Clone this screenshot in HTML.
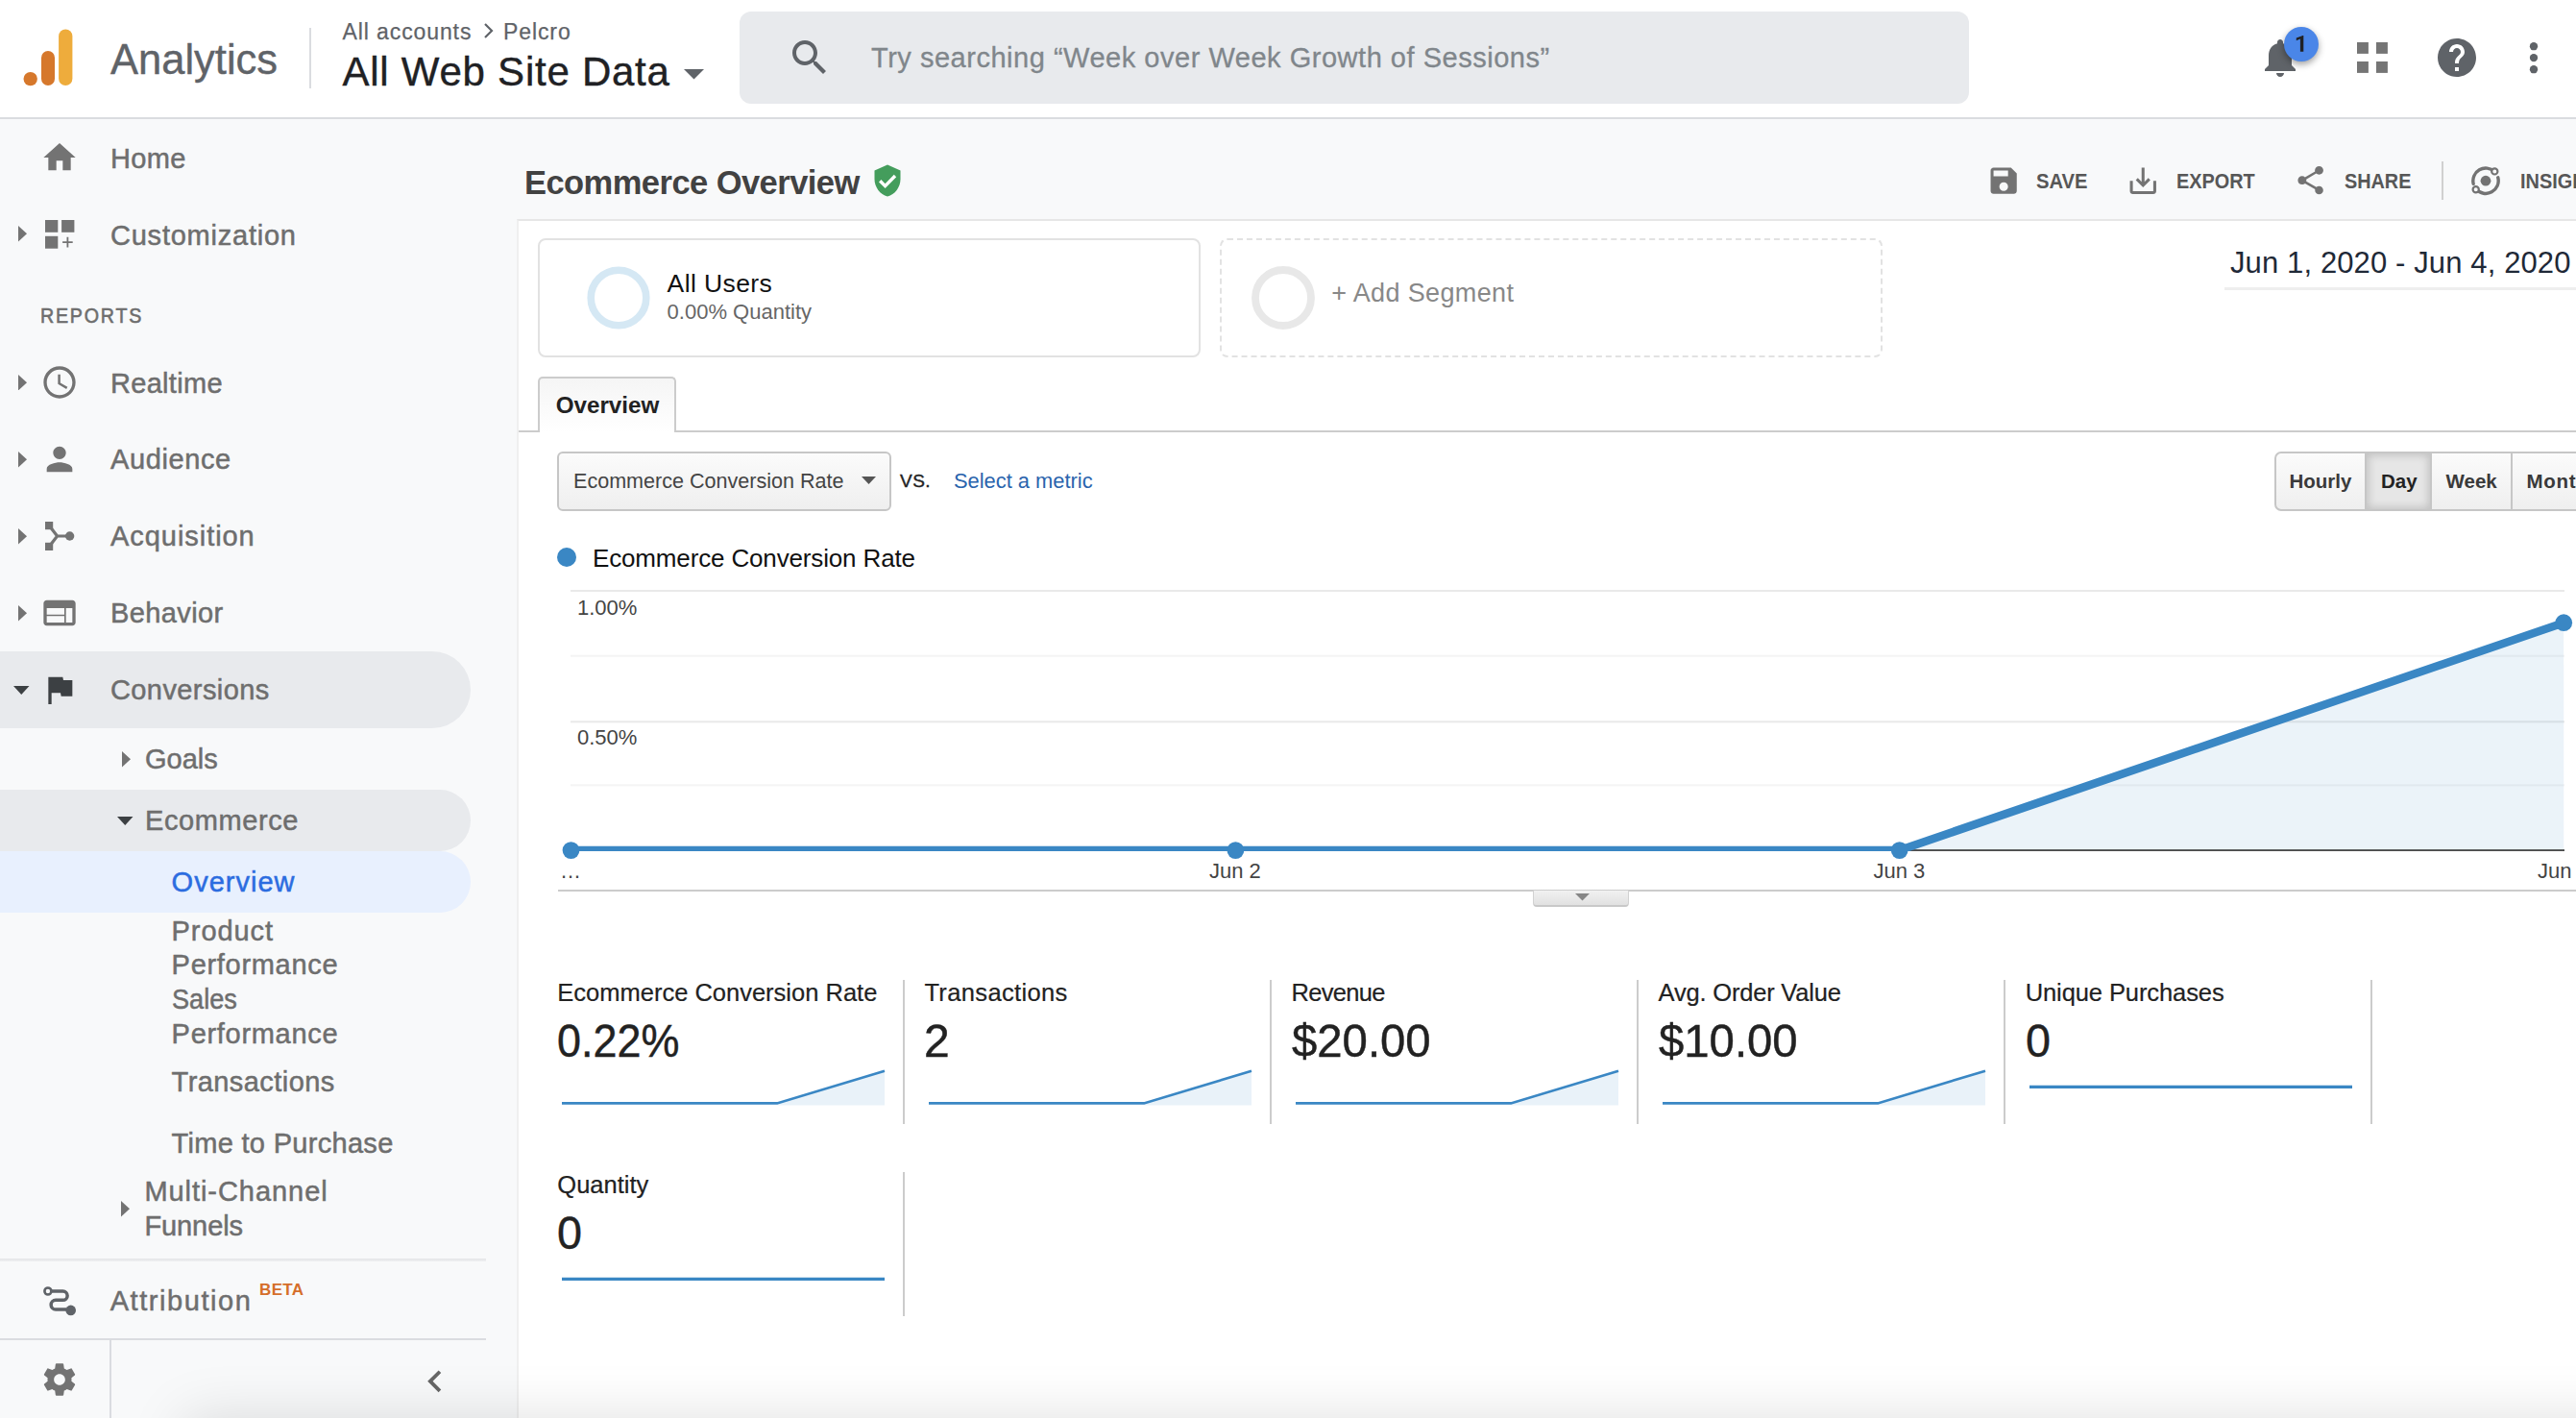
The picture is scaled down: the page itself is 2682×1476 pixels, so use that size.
<!DOCTYPE html>
<html><head><meta charset="utf-8"><title>Analytics</title>
<style>
html,body{margin:0;padding:0}
body{width:2682px;height:1476px;overflow:hidden;background:#f8f9fa;font-family:"Liberation Sans",sans-serif;position:relative}
.t{position:absolute;white-space:nowrap;line-height:1;margin:0}
.b{position:absolute;box-sizing:border-box;display:block}
</style></head><body>

<div class="b" style="left:0px;top:0px;width:2682px;height:122px;background:#fff"></div>
<div class="b" style="left:0px;top:122px;width:2682px;height:2px;background:#dadce0"></div>
<svg class="b" style="left:24px;top:30px;" width="54" height="60" viewBox="0 0 54 60"><circle cx="7.7" cy="52.1" r="7.2" fill="#d6782c"/><rect x="19" y="22.9" width="14" height="36.2" rx="7" fill="#d6782c"/><rect x="37.1" y="0.5" width="14.3" height="58.6" rx="7.15" fill="#eeac3c"/></svg>
<div class="t" style="left:115px;top:40.68px;font-size:43.5px;color:#5f6368;font-weight:400;letter-spacing:0px;-webkit-text-stroke:0.4px #5f6368;">Analytics</div>
<div class="b" style="left:322px;top:29px;width:2px;height:63px;background:#dadce0"></div>
<div class="t" style="left:356.5px;top:21.83px;font-size:23px;color:#5f6368;font-weight:400;letter-spacing:0.9px;-webkit-text-stroke:0.25px #5f6368;">All accounts</div>
<svg class="b" style="left:502px;top:23px;" width="14" height="18" viewBox="0 0 14 18"><path d="M3 2 L10 9 L3 16" fill="none" stroke="#5f6368" stroke-width="2.2"/></svg>
<div class="t" style="left:524px;top:21.83px;font-size:23px;color:#5f6368;font-weight:400;letter-spacing:0.9px;-webkit-text-stroke:0.25px #5f6368;">Pelcro</div>
<div class="t" style="left:356.5px;top:53.85px;font-size:42px;color:#202124;font-weight:400;letter-spacing:0.75px;-webkit-text-stroke:0.4px #202124;">All Web Site Data</div>
<svg class="b" style="left:712px;top:72px;" width="21" height="11" viewBox="0 0 21 11"><path d="M0 0H21L10.5 10.5z" fill="#5f6368"/></svg>
<div class="b" style="left:770px;top:12px;width:1280px;height:96px;background:#e8eaed;border-radius:12px"></div>
<svg class="b" style="left:818.6px;top:36px;" width="48" height="48" viewBox="0 0 24 24"><path fill="#5f6368" d="M15.5 14h-.79l-.28-.27C15.41 12.59 16 11.11 16 9.5 16 5.91 13.09 3 9.5 3S3 5.91 3 9.5 5.91 16 9.5 16c1.61 0 3.09-.59 4.23-1.57l.27.28v.79l5 4.99L20.49 19l-4.99-5zm-6 0C7.01 14 5 11.99 5 9.5S7.01 5 9.5 5 14 7.01 14 9.5 11.99 14 9.5 14z"/></svg>
<div class="t" style="left:907px;top:45.95px;font-size:29px;color:#80868b;font-weight:400;letter-spacing:0.52px;-webkit-text-stroke:0.3px #80868b;">Try searching “Week over Week Growth of Sessions”</div>
<svg class="b" style="left:2350px;top:35.8px;" width="48" height="48" viewBox="0 0 24 24"><path fill="#5f6368" d="M12 22c1.1 0 2-.9 2-2h-4c0 1.1.89 2 2 2zm6-6v-5c0-3.07-1.64-5.64-4.5-6.32V4c0-.83-.67-1.5-1.5-1.5s-1.5.67-1.5 1.5v.68C7.63 5.36 6 7.92 6 11v5l-2 2v1h16v-1l-2-2z"/></svg>
<div class="b" style="left:2378px;top:28px;width:36px;height:36px;background:#4a86e8;border-radius:50%;box-shadow:0 3px 7px rgba(0,0,0,.38)"></div>
<svg class="b" style="left:2388px;top:36px;" width="14" height="20" viewBox="0 0 14 20"><path d="M10.3 0.9V17.8H6.9V4.6L2.8 6.3V3.5L9.6 0.9z" fill="#202124"/></svg>
<svg class="b" style="left:2454.2px;top:44px;" width="32" height="32" viewBox="0 0 32 32"><rect x="0" y="0" width="11.9" height="11.9" fill="#757575"/><rect x="20" y="0" width="11.9" height="11.9" fill="#757575"/><rect x="0" y="20" width="11.9" height="11.9" fill="#757575"/><rect x="20" y="20" width="11.9" height="11.9" fill="#757575"/></svg>
<svg class="b" style="left:2534px;top:36px;" width="48" height="48" viewBox="0 0 24 24"><path fill="#5f6368" d="M12 2C6.48 2 2 6.48 2 12s4.48 10 10 10 10-4.48 10-10S17.52 2 12 2zm1 17h-2v-2h2v2zm2.07-7.75l-.9.92C13.45 12.9 13 13.5 13 15h-2v-.5c0-1.1.45-2.1 1.17-2.83l1.24-1.26c.37-.36.59-.86.59-1.41 0-1.1-.9-2-2-2s-2 .9-2 2H8c0-2.21 1.79-4 4-4s4 1.79 4 4c0 .88-.36 1.68-.93 2.25z"/></svg>
<svg class="b" style="left:2632.8px;top:43px;" width="10" height="34" viewBox="0 0 10 34"><circle cx="5" cy="5.2" r="4.15" fill="#5f6368"/><circle cx="5" cy="17.1" r="4.15" fill="#5f6368"/><circle cx="5" cy="29.2" r="4.15" fill="#5f6368"/></svg>
<svg class="b" style="left:42px;top:144px;" width="40" height="40" viewBox="0 0 24 24"><path fill="#737373" d="M10 20v-6h4v6h5v-8h3L12 3 2 12h3v8z"/></svg>
<div class="t" style="left:115px;top:150.95px;font-size:29px;color:#6e6e6e;font-weight:400;letter-spacing:0.35px;-webkit-text-stroke:0.5px #6e6e6e;">Home</div>
<svg class="b" style="left:18.5px;top:235.3px;" width="9" height="16.5" viewBox="0 0 9 16.5"><path d="M0 0L9 8.25L0 16.5z" fill="#737373"/></svg>
<svg class="b" style="left:47px;top:229.2px;" width="31" height="31" viewBox="0 0 31 31"><rect x="0" y="0" width="13.3" height="12.8" fill="#737373"/><rect x="17.1" y="0" width="13.3" height="12.8" fill="#737373"/><rect x="0" y="16.8" width="13.3" height="12.9" fill="#737373"/><path d="M23.4 17.8V28.4M18.1 23.1H28.7" stroke="#737373" stroke-width="1.8" fill="none"/></svg>
<div class="t" style="left:115px;top:230.95px;font-size:29px;color:#6e6e6e;font-weight:400;letter-spacing:0.77px;-webkit-text-stroke:0.5px #6e6e6e;">Customization</div>
<div class="t" style="left:42.3px;top:317.78px;font-size:22px;color:#6e6e6e;font-weight:400;letter-spacing:2.0px;-webkit-text-stroke:0.6px #6e6e6e;transform-origin:0 0;transform:scaleX(0.893);">REPORTS</div>
<svg class="b" style="left:18.5px;top:389.8px;" width="9" height="16.5" viewBox="0 0 9 16.5"><path d="M0 0L9 8.25L0 16.5z" fill="#737373"/></svg>
<svg class="b" style="left:42px;top:378px;" width="40" height="40" viewBox="0 0 24 24"><path fill="#737373" d="M11.99 2C6.47 2 2 6.48 2 12s4.47 10 9.99 10C17.52 22 22 17.52 22 12S17.52 2 11.99 2zM12 20c-4.42 0-8-3.58-8-8s3.58-8 8-8 8 3.58 8 8-3.58 8-8 8zm.5-13H11v6l5.25 3.15.75-1.23-4.5-2.67z"/></svg>
<div class="t" style="left:115px;top:384.75px;font-size:29px;color:#6e6e6e;font-weight:400;letter-spacing:0.3px;-webkit-text-stroke:0.5px #6e6e6e;">Realtime</div>
<svg class="b" style="left:18.5px;top:470px;" width="9" height="16.5" viewBox="0 0 9 16.5"><path d="M0 0L9 8.25L0 16.5z" fill="#737373"/></svg>
<svg class="b" style="left:42px;top:458px;" width="40" height="40" viewBox="0 0 24 24"><path fill="#737373" d="M12 12c2.21 0 4-1.79 4-4s-1.790-4-4-4-4 1.79-4 4 1.79 4 4 4zm0 2c-2.67 0-8 1.34-8 4v2h16v-2c0-2.66-5.33-4-8-4z"/></svg>
<div class="t" style="left:115px;top:464.25px;font-size:29px;color:#6e6e6e;font-weight:400;letter-spacing:0.6px;-webkit-text-stroke:0.5px #6e6e6e;">Audience</div>
<svg class="b" style="left:18.5px;top:550px;" width="9" height="16.5" viewBox="0 0 9 16.5"><path d="M0 0L9 8.25L0 16.5z" fill="#737373"/></svg>
<svg class="b" style="left:47px;top:543.2px;" width="31" height="30" viewBox="0 0 31 30"><path d="M4.1 4.1 L12.6 15 L4.1 25.9 M12.6 15 H26" fill="none" stroke="#737373" stroke-width="3.2"/><rect x="0" y="0" width="8.2" height="8.2" fill="#737373"/><rect x="0" y="21.8" width="8.2" height="8.2" fill="#737373"/><circle cx="25.6" cy="15" r="4.7" fill="#737373"/></svg>
<div class="t" style="left:115px;top:544.25px;font-size:29px;color:#6e6e6e;font-weight:400;letter-spacing:0.95px;-webkit-text-stroke:0.5px #6e6e6e;">Acquisition</div>
<svg class="b" style="left:18.5px;top:630px;" width="9" height="16.5" viewBox="0 0 9 16.5"><path d="M0 0L9 8.25L0 16.5z" fill="#737373"/></svg>
<svg class="b" style="left:42px;top:618px;" width="40" height="40" viewBox="0 0 24 24"><path fill="#737373" d="M20 4H4c-1.1 0-1.99.9-1.99 2L2 18c0 1.1.9 2 2 2h16c1.1 0 2-.9 2-2V6c0-1.1-.9-2-2-2zm-5 14H4v-4h11v4zm0-5H4V9h11v4zm5 5h-4V9h4v9z"/></svg>
<div class="t" style="left:115px;top:624.25px;font-size:29px;color:#6e6e6e;font-weight:400;letter-spacing:0.4px;-webkit-text-stroke:0.5px #6e6e6e;">Behavior</div>
<div class="b" style="left:-40px;top:678px;width:530px;height:80px;background:#e8eaed;border-radius:40px"></div>
<svg class="b" style="left:14px;top:714px;" width="16.5" height="9" viewBox="0 0 16.5 9"><path d="M0 0H16.5L8.25 9z" fill="#3c4043"/></svg>
<svg class="b" style="left:42px;top:698px;" width="40" height="40" viewBox="0 0 24 24"><path fill="#3c4043" d="M14.4 6L14 4H5v17h2v-7h5.6l.4 2h7V6z"/></svg>
<div class="t" style="left:115px;top:704.25px;font-size:29px;color:#6e6e6e;font-weight:400;letter-spacing:0.4px;-webkit-text-stroke:0.5px #6e6e6e;">Conversions</div>
<svg class="b" style="left:127px;top:782px;" width="9" height="16.5" viewBox="0 0 9 16.5"><path d="M0 0L9 8.25L0 16.5z" fill="#737373"/></svg>
<div class="t" style="left:151px;top:776.15px;font-size:29px;color:#6e6e6e;font-weight:400;letter-spacing:0.0px;-webkit-text-stroke:0.5px #6e6e6e;">Goals</div>
<div class="b" style="left:-40px;top:822px;width:530px;height:64px;background:#e8eaed;border-radius:32px"></div>
<svg class="b" style="left:122px;top:850px;" width="16.5" height="9" viewBox="0 0 16.5 9"><path d="M0 0H16.5L8.25 9z" fill="#3c4043"/></svg>
<div class="t" style="left:151px;top:839.95px;font-size:29px;color:#6e6e6e;font-weight:400;letter-spacing:0.6px;-webkit-text-stroke:0.5px #6e6e6e;">Ecommerce</div>
<div class="b" style="left:-40px;top:886px;width:530px;height:64px;background:#e8f0fe;border-radius:32px"></div>
<div class="t" style="left:178.6px;top:904.45px;font-size:29px;color:#2b6ce0;font-weight:400;letter-spacing:1.0px;-webkit-text-stroke:0.5px #2b6ce0;">Overview</div>
<div class="t" style="left:178.6px;top:954.75px;font-size:29px;color:#6e6e6e;font-weight:400;letter-spacing:0.9px;-webkit-text-stroke:0.5px #6e6e6e;">Product</div>
<div class="t" style="left:178.6px;top:990.35px;font-size:29px;color:#6e6e6e;font-weight:400;letter-spacing:0.7px;-webkit-text-stroke:0.5px #6e6e6e;">Performance</div>
<div class="t" style="left:178.6px;top:1026.25px;font-size:29px;color:#6e6e6e;font-weight:400;letter-spacing:0px;-webkit-text-stroke:0.5px #6e6e6e;transform-origin:0 0;transform:scaleX(0.935);">Sales</div>
<div class="t" style="left:178.6px;top:1061.95px;font-size:29px;color:#6e6e6e;font-weight:400;letter-spacing:0.7px;-webkit-text-stroke:0.5px #6e6e6e;">Performance</div>
<div class="t" style="left:178.6px;top:1111.95px;font-size:29px;color:#6e6e6e;font-weight:400;letter-spacing:0.43px;-webkit-text-stroke:0.5px #6e6e6e;">Transactions</div>
<div class="t" style="left:178.6px;top:1176.25px;font-size:29px;color:#6e6e6e;font-weight:400;letter-spacing:0.3px;-webkit-text-stroke:0.5px #6e6e6e;">Time to Purchase</div>
<svg class="b" style="left:126px;top:1250px;" width="9" height="16.5" viewBox="0 0 9 16.5"><path d="M0 0L9 8.25L0 16.5z" fill="#737373"/></svg>
<div class="t" style="left:150.4px;top:1225.95px;font-size:29px;color:#6e6e6e;font-weight:400;letter-spacing:0.95px;-webkit-text-stroke:0.5px #6e6e6e;">Multi-Channel</div>
<div class="t" style="left:150.4px;top:1262.45px;font-size:29px;color:#6e6e6e;font-weight:400;letter-spacing:-0.08px;-webkit-text-stroke:0.5px #6e6e6e;">Funnels</div>
<div class="b" style="left:0px;top:1310px;width:506px;height:3px;background:linear-gradient(#e4e5e7,#eeeff1)"></div>
<svg class="b" style="left:44px;top:1337px;" width="36" height="34" viewBox="0 0 36 34"><path d="M9.5 7 H21.5 a4.65 4.65 0 0 1 0 9.3 H14 a4.85 4.85 0 0 0 0 9.7 H25" fill="none" stroke="#5f6368" stroke-width="3.5"/><circle cx="5.9" cy="7" r="3.5" fill="#f8f9fa" stroke="#5f6368" stroke-width="2.6"/><circle cx="29.7" cy="26.9" r="5.3" fill="#5f6368"/></svg>
<div class="t" style="left:114.7px;top:1339.95px;font-size:29px;color:#6e6e6e;font-weight:400;letter-spacing:1.56px;-webkit-text-stroke:0.5px #6e6e6e;">Attribution</div>
<div class="t" style="left:270px;top:1333.91px;font-size:17px;color:#d56e2a;font-weight:700;letter-spacing:0.35px;">BETA</div>
<div class="b" style="left:0px;top:1393px;width:506px;height:2px;background:#dadce0"></div>
<div class="b" style="left:114px;top:1395px;width:2px;height:81px;background:#dadce0"></div>
<svg class="b" style="left:42px;top:1415.5px;" width="40" height="40" viewBox="0 0 24 24"><path fill="#737373" d="M19.43 12.98c.04-.32.07-.64.07-.98s-.03-.66-.07-.98l2.11-1.65c.19-.15.24-.42.12-.64l-2-3.46c-.12-.22-.39-.3-.61-.22l-2.49 1c-.52-.4-1.08-.73-1.69-.98l-.38-2.65C14.46 2.18 14.25 2 14 2h-4c-.25 0-.46.18-.49.42l-.38 2.65c-.61.25-1.17.59-1.69.98l-2.49-1c-.23-.09-.49 0-.61.22l-2 3.46c-.13.22-.07.49.12.64l2.11 1.65c-.04.32-.07.65-.07.98s.03.66.07.98l-2.11 1.65c-.19.15-.24.42-.12.64l2 3.46c.12.22.39.3.61.22l2.49-1c.52.4 1.08.73 1.69.98l.38 2.65c.03.24.24.42.49.42h4c.25 0 .46-.18.49-.42l.38-2.65c.61-.25 1.17-.59 1.69-.98l2.49 1c.23.09.49 0 .61-.22l2-3.46c.12-.22.07-.49-.12-.64l-2.11-1.65zM12 15.5c-1.93 0-3.5-1.57-3.5-3.5s1.57-3.5 3.5-3.5 3.5 1.57 3.5 3.5-1.57 3.5-3.5 3.5z"/></svg>
<svg class="b" style="left:430.3px;top:1415.3px;" width="45.6" height="45.6" viewBox="0 0 24 24"><path fill="#666" d="M15.41 7.41L14 6l-6 6 6 6 1.41-1.41L10.83 12z"/></svg>
<div class="t" style="left:546px;top:173.10px;font-size:34.5px;color:#424242;font-weight:700;letter-spacing:-0.55px;">Ecommerce Overview</div>
<svg class="b" style="left:906px;top:170px;" width="36" height="36" viewBox="0 0 24 24"><path fill="#449d5c" d="M12 1L3 5v6c0 5.55 3.84 10.74 9 12 5.16-1.26 9-6.45 9-12V5l-9-4z"/></svg>
<svg class="b" style="left:906px;top:170px;" width="36" height="36" viewBox="0 0 36 36"><path d="M10.2 18.2 L15.6 23.6 L26 13" fill="none" stroke="#fff" stroke-width="3.4"/></svg>
<svg class="b" style="left:2068.1px;top:170px;" width="36.3" height="36.3" viewBox="0 0 24 24"><path fill="#737373" d="M17 3H5c-1.11 0-2 .9-2 2v14c0 1.1.89 2 2 2h14c1.1 0 2-.9 2-2V7l-4-4zm-5 16c-1.66 0-3-1.34-3-3s1.34-3 3-3 3 1.34 3 3-1.34 3-3 3zm3-10H5V5h10v4z"/></svg>
<div class="t" style="left:2119.9px;top:177.58px;font-size:22px;color:#575757;font-weight:700;transform-origin:0 0;transform:scaleX(0.9180);">SAVE</div>
<svg class="b" style="left:2213.4px;top:170px;" width="36.5" height="36.5" viewBox="0 0 24 24"><path fill="#737373" d="M19 12v7H5v-7H3v7c0 1.1.9 2 2 2h14c1.1 0 2-.9 2-2v-7h-2zm-6 .67l2.59-2.58L17 11.5l-5 5-5-5 1.41-1.41L11 12.67V3h2z"/></svg>
<div class="t" style="left:2265.9px;top:177.58px;font-size:22px;color:#575757;font-weight:700;transform-origin:0 0;transform:scaleX(0.9031);">EXPORT</div>
<svg class="b" style="left:2388.3px;top:170.3px;" width="35.4" height="35.4" viewBox="0 0 24 24"><path fill="#737373" d="M18 16.08c-.76 0-1.44.3-1.96.77L8.91 12.7c.05-.23.09-.46.09-.7s-.04-.47-.09-.7l7.05-4.11c.54.5 1.25.81 2.04.81 1.66 0 3-1.34 3-3s-1.34-3-3-3-3 1.34-3 3c0 .24.04.47.09.7L8.04 9.81C7.5 9.31 6.79 9 6 9c-1.66 0-3 1.34-3 3s1.34 3 3 3c.79 0 1.5-.31 2.04-.81l7.12 4.16c-.05.21-.08.43-.08.65 0 1.61 1.31 2.92 2.92 2.92 1.61 0 2.92-1.31 2.92-2.92s-1.31-2.92-2.92-2.92z"/></svg>
<div class="t" style="left:2441.3px;top:177.58px;font-size:22px;color:#575757;font-weight:700;transform-origin:0 0;transform:scaleX(0.9011);">SHARE</div>
<div class="b" style="left:2542px;top:168px;width:2px;height:40px;background:#d0d0d0"></div>
<svg class="b" style="left:2573.3px;top:172.8px;" width="31" height="31" viewBox="0 0 31 31"><path d="M24.09 5.63 A13.2 13.2 0 0 0 2.2 18.39 M5.11 23.95 A13.2 13.2 0 0 0 27.75 11.78" fill="none" stroke="#737373" stroke-width="3.4" stroke-linecap="round"/><circle cx="15" cy="15.2" r="5.4" fill="#737373"/><circle cx="24.3" cy="5.4" r="3.1" fill="#f8f9fa" stroke="#737373" stroke-width="2.2"/><circle cx="4.7" cy="24.3" r="3.1" fill="#f8f9fa" stroke="#737373" stroke-width="2.2"/></svg>
<div class="t" style="left:2624.1px;top:177.58px;font-size:22px;color:#575757;font-weight:700;transform-origin:0 0;transform:scaleX(0.9047);">INSIGHTS</div>
<div class="b" style="left:538px;top:228px;width:2150px;height:1260px;background:#fff;border-top:2px solid #e6e6e6;border-left:2px solid #efefef"></div>
<div class="b" style="left:560px;top:248px;width:690px;height:124px;background:#fff;border:2px solid #e2e2e2;border-radius:8px"></div>
<svg class="b" style="left:608px;top:274px;" width="72" height="72" viewBox="0 0 72 72"><circle cx="36" cy="36" r="28.8" fill="none" stroke="#d5e8f4" stroke-width="7.6"/></svg>
<div class="t" style="left:694.6px;top:281.57px;font-size:26.5px;color:#111;font-weight:400;letter-spacing:0.4px;">All Users</div>
<div class="t" style="left:694.6px;top:314.38px;font-size:22px;color:#666;font-weight:400;letter-spacing:0px;">0.00% Quantity</div>
<div class="b" style="left:1270px;top:248px;width:690px;height:124px;background:#fff;border:2px dashed #e2e2e2;border-radius:8px"></div>
<svg class="b" style="left:1300px;top:274px;" width="72" height="72" viewBox="0 0 72 72"><circle cx="36" cy="36" r="29" fill="none" stroke="#e8e8e8" stroke-width="7.8"/></svg>
<div class="t" style="left:1386.2px;top:291.74px;font-size:27px;color:#888;font-weight:400;letter-spacing:0.36px;">+ Add Segment</div>
<div class="t" style="left:2322px;top:257.76px;font-size:31px;color:#1f2937;font-weight:400;letter-spacing:0.12px;">Jun 1, 2020 - Jun 4, 2020</div>
<div class="b" style="left:2316px;top:298.6px;width:370px;height:3px;background:#eee"></div>
<div class="b" style="left:540px;top:448px;width:2142px;height:2px;background:#ccc"></div>
<div class="b" style="left:560px;top:392px;width:144px;height:58px;background:linear-gradient(#f5f5f5,#fff);border:2px solid #ccc;border-bottom:none;border-radius:5px 5px 0 0"></div>
<div class="t" style="left:578.7px;top:409.51px;font-size:24.2px;color:#222;font-weight:700;letter-spacing:0px;">Overview</div>
<div class="b" style="left:580px;top:470px;width:348px;height:62px;background:linear-gradient(#fbfbfb,#efefef);border:2px solid #c6c6c6;border-radius:6px"></div>
<div class="t" style="left:596.5px;top:489.88px;font-size:22px;color:#444;font-weight:400;transform-origin:0 0;transform:scaleX(0.9798);">Ecommerce Conversion Rate</div>
<svg class="b" style="left:897.3px;top:495.8px;" width="15" height="8" viewBox="0 0 15 8"><path d="M0 0H15L7.5 8z" fill="#555"/></svg>
<div class="t" style="left:937px;top:490.72px;font-size:19px;color:#222;font-weight:400;letter-spacing:0.5px;-webkit-text-stroke:0.4px #222;">VS.</div>
<div class="t" style="left:993px;top:489.88px;font-size:22px;color:#2a64ad;font-weight:400;transform-origin:0 0;transform:scaleX(0.9938);">Select a metric</div>
<div class="b" style="left:2368px;top:470px;width:330px;height:62px;background:linear-gradient(#fbfbfb,#efefef);border:2px solid #c6c6c6;border-radius:7px"></div>
<div class="b" style="left:2462px;top:472px;width:70px;height:58px;background:#e6e6e6;box-shadow:inset 0 0 8px 2px rgba(0,0,0,.16);border-left:2px solid #c6c6c6;border-right:2px solid #c6c6c6"></div>
<div class="b" style="left:2614px;top:472px;width:2px;height:58px;background:#c6c6c6"></div>
<div class="t" style="left:2383.5px;top:490.65px;font-size:20.5px;color:#3a3a3a;font-weight:700;letter-spacing:0px;">Hourly</div>
<div class="t" style="left:2479px;top:490.65px;font-size:20.5px;color:#222;font-weight:700;letter-spacing:0px;">Day</div>
<div class="t" style="left:2546.6px;top:490.65px;font-size:20.5px;color:#3a3a3a;font-weight:700;letter-spacing:0px;">Week</div>
<div class="t" style="left:2630.5px;top:490.65px;font-size:20.5px;color:#3a3a3a;font-weight:700;letter-spacing:0.7px;">Month</div>
<div class="b" style="left:580px;top:570.4px;width:20px;height:20px;background:#3a87c4;border-radius:50%"></div>
<div class="t" style="left:617px;top:567.99px;font-size:26px;color:#111;font-weight:400;letter-spacing:-0.15px;">Ecommerce Conversion Rate</div>
<svg class="b" style="left:0px;top:0px;" width="2682" height="960" viewBox="0 0 2682 960"><rect x="594" y="614" width="2076" height="2" fill="#e9e9e9"/><rect x="594" y="681.7" width="2076" height="2" fill="#f4f4f4"/><rect x="594" y="750.3" width="2076" height="2" fill="#e9e9e9"/><rect x="594" y="816.4" width="2076" height="2" fill="#f4f4f4"/><defs><clipPath id="cc"><rect x="0" y="0" width="2682" height="886"/></clipPath></defs><path d="M1977.7 885 L2669.2 648.2 L2669.2 885 Z" fill="#3a87c4" fill-opacity="0.1"/><rect x="594" y="884.3" width="2076" height="1.5" fill="#222"/><path d="M594.5 885 L1286.4 885 L1977.7 885 L2669.2 648.2" fill="none" stroke="#3a87c4" stroke-width="8.6" stroke-linejoin="round" clip-path="url(#cc)"/><circle cx="594.5" cy="885.1" r="8.9" fill="#3a87c4"/><circle cx="1286.4" cy="885.1" r="8.9" fill="#3a87c4"/><circle cx="1977.7" cy="885.1" r="8.9" fill="#3a87c4"/><circle cx="2669.2" cy="648.2" r="8.9" fill="#3a87c4"/></svg>
<div class="t" style="left:601px;top:622.38px;font-size:22px;color:#444;font-weight:400;letter-spacing:0px;">1.00%</div>
<div class="t" style="left:601px;top:757.38px;font-size:22px;color:#444;font-weight:400;letter-spacing:0px;">0.50%</div>
<div class="t" style="left:583px;top:895.68px;font-size:22px;color:#444;font-weight:400;letter-spacing:0px;">…</div>
<div class="t" style="left:1259px;top:895.68px;font-size:22px;color:#444;font-weight:400;letter-spacing:0px;">Jun 2</div>
<div class="t" style="left:1950.5px;top:895.68px;font-size:22px;color:#444;font-weight:400;letter-spacing:0px;">Jun 3</div>
<div class="t" style="left:2642px;top:895.68px;font-size:22px;color:#444;font-weight:400;letter-spacing:0px;">Jun 4</div>
<div class="b" style="left:581px;top:926px;width:2101px;height:2px;background:#ccc"></div>
<div class="b" style="left:1596px;top:927px;width:100px;height:17px;background:linear-gradient(#f1f1f1,#e1e1e1);border:1.5px solid #d2d2d2;border-bottom:2px solid #c8c8c8;border-top:none;border-radius:0 0 4px 4px"></div>
<svg class="b" style="left:1639.5px;top:930px;" width="15" height="7.6" viewBox="0 0 15 7.6"><path d="M0 0H15L7.5 7.6z" fill="#868686"/></svg>
<div class="t" style="left:580.3px;top:1020.71px;font-size:25.5px;color:#222;font-weight:400;letter-spacing:0px;-webkit-text-stroke:0.2px #222;">Ecommerce Conversion Rate</div>
<div class="t" style="left:580.3px;top:1058.52px;font-size:49px;color:#222;font-weight:400;transform-origin:0 0;transform:scaleX(0.9162);-webkit-text-stroke:0.45px #222;">0.22%</div>
<svg class="b" style="left:583.0px;top:1105px;" width="342" height="50" viewBox="0 0 342 50"><path d="M226 43.4 L338 9.7 V45.4 H226z" fill="#3a87c4" fill-opacity="0.11"/><path d="M2 43.4 H226 L338 9.7" stroke="#3a87c4" stroke-width="2.6" fill="none"/></svg>
<div class="b" style="left:939.8px;top:1020px;width:2px;height:150px;background:#ccc"></div>
<div class="t" style="left:962.4px;top:1020.71px;font-size:25.5px;color:#222;font-weight:400;letter-spacing:0.35px;-webkit-text-stroke:0.2px #222;">Transactions</div>
<div class="t" style="left:962.4px;top:1058.52px;font-size:49px;color:#222;font-weight:400;transform-origin:0 0;transform:scaleX(0.9791);-webkit-text-stroke:0.45px #222;">2</div>
<svg class="b" style="left:965.1px;top:1105px;" width="342" height="50" viewBox="0 0 342 50"><path d="M226 43.4 L338 9.7 V45.4 H226z" fill="#3a87c4" fill-opacity="0.11"/><path d="M2 43.4 H226 L338 9.7" stroke="#3a87c4" stroke-width="2.6" fill="none"/></svg>
<div class="b" style="left:1321.9px;top:1020px;width:2px;height:150px;background:#ccc"></div>
<div class="t" style="left:1344.5px;top:1020.71px;font-size:25.5px;color:#222;font-weight:400;letter-spacing:-0.7px;-webkit-text-stroke:0.2px #222;">Revenue</div>
<div class="t" style="left:1344.5px;top:1058.52px;font-size:49px;color:#222;font-weight:400;transform-origin:0 0;transform:scaleX(0.9653);-webkit-text-stroke:0.45px #222;">$20.00</div>
<svg class="b" style="left:1347.2px;top:1105px;" width="342" height="50" viewBox="0 0 342 50"><path d="M226 43.4 L338 9.7 V45.4 H226z" fill="#3a87c4" fill-opacity="0.11"/><path d="M2 43.4 H226 L338 9.7" stroke="#3a87c4" stroke-width="2.6" fill="none"/></svg>
<div class="b" style="left:1704.0px;top:1020px;width:2px;height:150px;background:#ccc"></div>
<div class="t" style="left:1726.6000000000001px;top:1020.71px;font-size:25.5px;color:#222;font-weight:400;letter-spacing:-0.2px;-webkit-text-stroke:0.2px #222;">Avg. Order Value</div>
<div class="t" style="left:1726.6000000000001px;top:1058.52px;font-size:49px;color:#222;font-weight:400;transform-origin:0 0;transform:scaleX(0.9653);-webkit-text-stroke:0.45px #222;">$10.00</div>
<svg class="b" style="left:1729.3000000000002px;top:1105px;" width="342" height="50" viewBox="0 0 342 50"><path d="M226 43.4 L338 9.7 V45.4 H226z" fill="#3a87c4" fill-opacity="0.11"/><path d="M2 43.4 H226 L338 9.7" stroke="#3a87c4" stroke-width="2.6" fill="none"/></svg>
<div class="b" style="left:2086.1000000000004px;top:1020px;width:2px;height:150px;background:#ccc"></div>
<div class="t" style="left:2108.7px;top:1020.71px;font-size:25.5px;color:#222;font-weight:400;letter-spacing:-0.09px;-webkit-text-stroke:0.2px #222;">Unique Purchases</div>
<div class="t" style="left:2108.7px;top:1058.52px;font-size:49px;color:#222;font-weight:400;transform-origin:0 0;transform:scaleX(0.9534);-webkit-text-stroke:0.45px #222;">0</div>
<svg class="b" style="left:2111.3999999999996px;top:1120px;" width="342" height="40" viewBox="0 0 342 40"><path d="M2 11.3 H338" stroke="#3a87c4" stroke-width="3.2" fill="none"/></svg>
<div class="b" style="left:2468.2px;top:1020px;width:2px;height:150px;background:#ccc"></div>
<div class="t" style="left:580.3px;top:1220.71px;font-size:25.5px;color:#222;font-weight:400;letter-spacing:0px;-webkit-text-stroke:0.2px #222;">Quantity</div>
<div class="t" style="left:580.3px;top:1258.52px;font-size:49px;color:#222;font-weight:400;transform-origin:0 0;transform:scaleX(0.9534);-webkit-text-stroke:0.45px #222;">0</div>
<svg class="b" style="left:583.0px;top:1320px;" width="342" height="40" viewBox="0 0 342 40"><path d="M2 11.3 H338" stroke="#3a87c4" stroke-width="3.2" fill="none"/></svg>
<div class="b" style="left:939.8px;top:1220px;width:2px;height:150px;background:#ccc"></div>
<div class="b" style="left:200px;top:1484px;width:2700px;height:100px;box-shadow:0 0 60px 8px rgba(0,0,0,.13)"></div>
</body></html>
